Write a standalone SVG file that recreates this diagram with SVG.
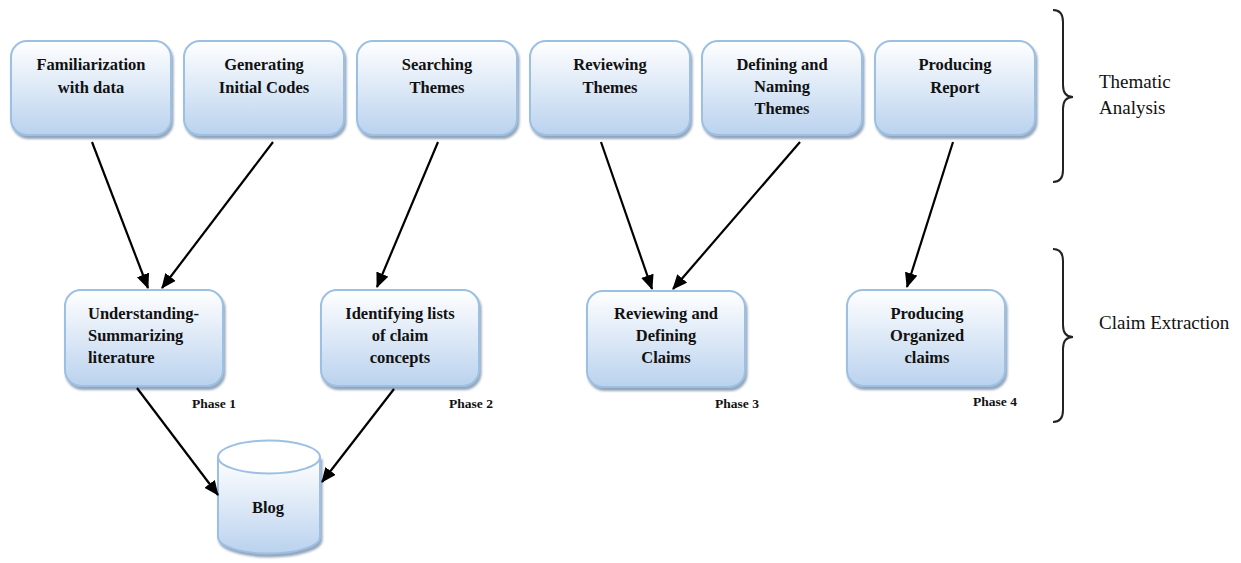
<svg xmlns="http://www.w3.org/2000/svg" width="1241" height="563" viewBox="0 0 1241 563">
<defs>
<linearGradient id="g" x1="0" y1="0" x2="0" y2="1">
<stop offset="0" stop-color="#ffffff"/>
<stop offset="1" stop-color="#bad2ee"/>
</linearGradient>
<filter id="sh" x="-10%" y="-10%" width="125%" height="130%">
<feDropShadow dx="1.5" dy="3" stdDeviation="1.3" flood-color="#6f86a3" flood-opacity="0.75"/>
</filter>
<marker id="ah" markerUnits="userSpaceOnUse" markerWidth="16" markerHeight="14" refX="14" refY="6.5" orient="auto">
<path d="M0,0 L15,6.5 L0,13 Z" fill="#000"/>
</marker>
</defs>
<style>
.box{fill:url(#g);stroke:#9cc0e3;stroke-width:2;filter:url(#sh)}
.t,.tl,.ph,.lab{font-family:"Liberation Serif","Times New Roman","DejaVu Serif",serif}
.t{font-weight:bold;font-size:16.5px;fill:#111;text-anchor:middle}
.tl{font-weight:bold;font-size:16.5px;fill:#111}
.ph{font-weight:bold;font-size:13.5px;fill:#111}
.lab{font-size:19px;fill:#111}
.c{stroke:#000;stroke-width:2.2;fill:none;marker-end:url(#ah)}
.br{stroke:#222;stroke-width:2;fill:none}
</style>
<g id="n1"><rect class="box" x="11" y="41" width="160" height="94" rx="16"/><text class="t" x="91" y="70">Familiarization</text><text class="t" x="91" y="93">with data</text></g>
<g id="n2"><rect class="box" x="184" y="41" width="160" height="94" rx="16"/><text class="t" x="264" y="70">Generating</text><text class="t" x="264" y="93">Initial Codes</text></g>
<g id="n3"><rect class="box" x="357" y="41" width="160" height="94" rx="16"/><text class="t" x="437" y="70">Searching</text><text class="t" x="437" y="93">Themes</text></g>
<g id="n4"><rect class="box" x="530" y="41" width="160" height="94" rx="16"/><text class="t" x="610" y="70">Reviewing</text><text class="t" x="610" y="93">Themes</text></g>
<g id="n5"><rect class="box" x="702" y="41" width="160" height="94" rx="16"/><text class="t" x="782" y="70">Defining and</text><text class="t" x="782" y="92">Naming</text><text class="t" x="782" y="114">Themes</text></g>
<g id="n6"><rect class="box" x="875" y="41" width="160" height="94" rx="16"/><text class="t" x="955" y="70">Producing</text><text class="t" x="955" y="93">Report</text></g>
<g id="p1"><rect class="box" x="65" y="290" width="158" height="96" rx="16"/><text class="tl" x="88" y="319">Understanding-</text><text class="tl" x="88" y="341">Summarizing</text><text class="tl" x="88" y="363">literature</text></g>
<g id="p2"><rect class="box" x="321" y="290" width="158" height="96" rx="16"/><text class="t" x="400" y="319">Identifying lists</text><text class="t" x="400" y="341">of claim</text><text class="t" x="400" y="363">concepts</text></g>
<g id="p3"><rect class="box" x="587" y="291" width="158" height="96" rx="16"/><text class="t" x="666" y="319">Reviewing and</text><text class="t" x="666" y="341">Defining</text><text class="t" x="666" y="363">Claims</text></g>
<g id="p4"><rect class="box" x="847" y="290" width="158" height="96" rx="16"/><text class="t" x="927" y="319">Producing</text><text class="t" x="927" y="341">Organized</text><text class="t" x="927" y="363">claims</text></g>
<g id="blog">
<path class="box" d="M218,457 L218,537 A51,16.5 0 0 0 320,537 L320,457 Z"/>
<ellipse cx="269" cy="457" rx="51" ry="16.5" fill="#ffffff" stroke="#9cc0e3" stroke-width="2"/>
<text class="t" x="268" y="513">Blog</text>
</g>
<g id="phases">
<text class="ph" x="192" y="408">Phase 1</text>
<text class="ph" x="449" y="408">Phase 2</text>
<text class="ph" x="715" y="408">Phase 3</text>
<text class="ph" x="973" y="406">Phase 4</text>
</g>
<g id="connectors">
<line class="c" x1="92" y1="142" x2="148" y2="288"/>
<line class="c" x1="273" y1="142" x2="162" y2="288"/>
<line class="c" x1="438" y1="142" x2="377" y2="287"/>
<line class="c" x1="601" y1="142" x2="652" y2="289"/>
<line class="c" x1="800" y1="142" x2="673" y2="289"/>
<line class="c" x1="953" y1="142" x2="907" y2="287"/>
<line class="c" x1="137" y1="388" x2="218" y2="495"/>
<line class="c" x1="394" y1="389" x2="322" y2="482"/>
</g>
<g id="braces">
<path class="br" d="M1053,10 Q1063,10 1063,22 L1063,85 Q1063,97 1073,97 Q1063,97 1063,109 L1063,170 Q1063,182 1053,182"/>
<path class="br" d="M1053,249 Q1063,249 1063,261 L1063,325 Q1063,337 1073,337 Q1063,337 1063,349 L1063,410 Q1063,422 1053,422"/>
<text class="lab" x="1099" y="88">Thematic</text>
<text class="lab" x="1099" y="114">Analysis</text>
<text class="lab" x="1099" y="329">Claim Extraction</text>
</g>
</svg>
